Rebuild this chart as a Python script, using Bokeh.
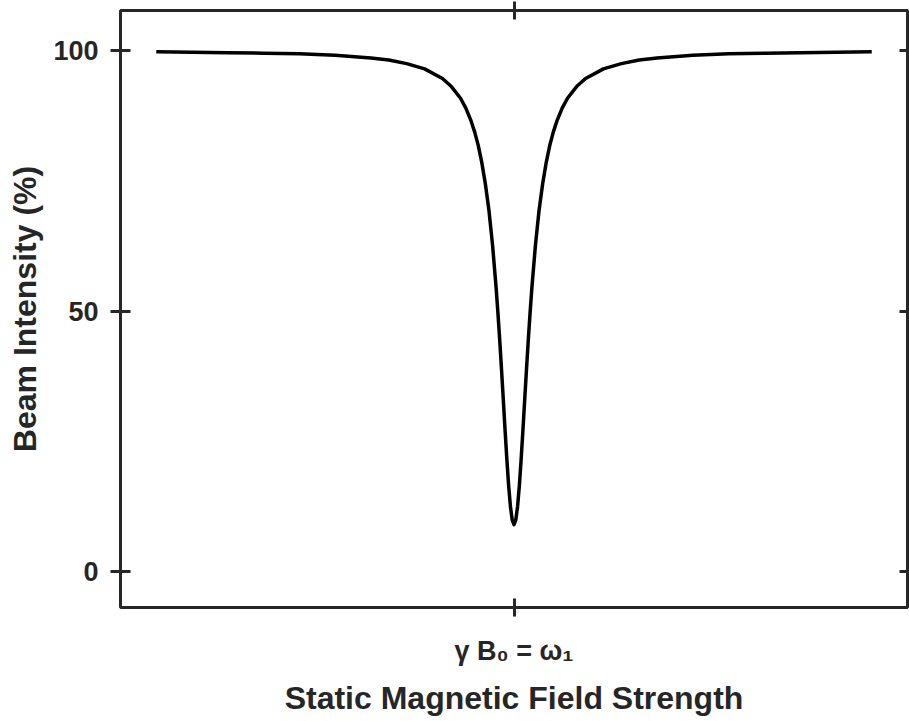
from bokeh.plotting import figure
from bokeh.models import Range1d, LinearAxis, FixedTicker, CustomLabelingPolicy
from bokeh.embed import file_html
from bokeh.resources import INLINE

# Data (x: detuning in arbitrary units, y: beam intensity %)
field = [-10, -9, -8, -7, -6, -5, -4, -3.5, -3, -2.5, -2, -1.75, -1.5, -1.35, -1.2, -1.1,
         -1.0, -0.9, -0.8, -0.7, -0.6, -0.5, -0.45, -0.4, -0.35, -0.3, -0.25, -0.2, -0.15,
         -0.1, -0.05, 0, 0.05, 0.1, 0.15, 0.2, 0.25, 0.3, 0.35, 0.4, 0.45, 0.5, 0.6, 0.7,
         0.8, 0.9, 1.0, 1.1, 1.2, 1.35, 1.5, 1.75, 2, 2.5, 3, 3.5, 4, 5, 6, 7, 8, 9, 10]
intensity = [99.8, 99.7, 99.6, 99.5, 99.4, 99.1, 98.6, 98.2, 97.5, 96.5, 94.65, 93.1, 90.9,
             89.0, 86.5, 84.4, 81.8, 78.5, 74.4, 69.3, 62.7, 54.5, 49.7, 44.5, 38.9, 33.1,
             27.2, 21.6, 16.5, 12.5, 9.9, 9.0, 9.9, 12.5, 16.5, 21.6, 27.2, 33.1, 38.9, 44.5,
             49.7, 54.5, 62.7, 69.3, 74.4, 78.5, 81.8, 84.4, 86.5, 89.0, 90.9, 93.1, 94.65,
             96.5, 97.5, 98.2, 98.6, 99.1, 99.4, 99.5, 99.6, 99.7, 99.8]
y_ticks = [0, 50, 100]
x_ticks = [0]
x_tick_label = {0: "\u03b3 B\u2080 = \u03c9\u2081"}
x_title = "Static Magnetic Field Strength"
y_title = "Beam Intensity (%)"

FONT = "Liberation Sans"
DARK = "#262626"

p = figure(width=909, height=721, output_backend="svg", toolbar_location=None,
           x_range=Range1d(-11, 11), y_range=Range1d(-6.9, 107.7),
           x_axis_location=None, y_axis_location=None,
           min_border_left=120, min_border_right=2, min_border_top=10, min_border_bottom=114)
p.grid.visible = False
p.outline_line_color = DARK
p.outline_line_width = 3
p.background_fill_color = "white"
p.border_fill_color = "white"

p.line(field, intensity, line_color="black", line_width=3.5, line_join="round")

def style(ax):
    ax.axis_line_color = None
    ax.major_tick_line_color = DARK
    ax.major_tick_line_width = 3
    ax.minor_tick_line_color = None
    ax.major_label_text_font = FONT
    ax.major_label_text_font_style = "bold"
    ax.major_label_text_color = DARK
    ax.major_label_text_font_size = "27px"
    ax.axis_label_text_font = FONT
    ax.axis_label_text_font_style = "bold"
    ax.axis_label_text_color = DARK
    ax.axis_label_text_font_size = "32px"

def no_labels():
    return CustomLabelingPolicy(code="""
        const n = indices.size
        for (let i = 0; i < n; i++) { indices.unset(i) }
        return indices
    """)

left = LinearAxis(ticker=FixedTicker(ticks=y_ticks), axis_label=y_title)
style(left)
left.major_tick_in = 10
left.major_tick_out = 10
left.major_label_standoff = 12
left.axis_label_standoff = 7
p.add_layout(left, "left")

right = LinearAxis(ticker=FixedTicker(ticks=y_ticks), major_label_policy=no_labels())
style(right)
right.major_label_text_font_size = "0px"
right.major_tick_in = 8
right.major_tick_out = 0
right.major_label_standoff = 0
p.add_layout(right, "right")

bottom = LinearAxis(ticker=FixedTicker(ticks=x_ticks), axis_label=x_title,
                    major_label_overrides=x_tick_label)
style(bottom)
bottom.major_tick_in = 9
bottom.major_tick_out = 9
bottom.major_label_standoff = 19
bottom.axis_label_standoff = 11
p.add_layout(bottom, "below")

top = LinearAxis(ticker=FixedTicker(ticks=x_ticks), major_label_policy=no_labels())
style(top)
top.major_label_text_font_size = "0px"
top.major_tick_in = 9
top.major_tick_out = 9
top.major_label_standoff = 0
p.add_layout(top, "above")

open("out.html", "w").write(file_html(p, INLINE))
